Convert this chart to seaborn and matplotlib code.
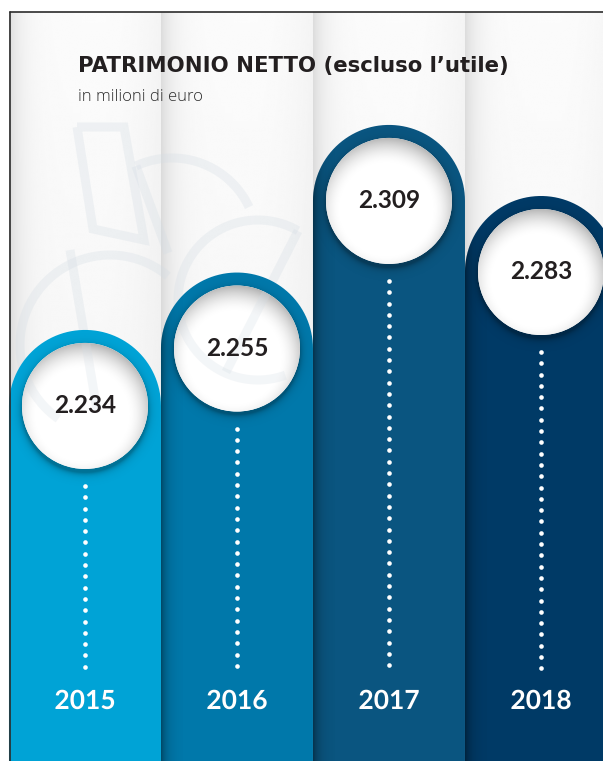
import numpy as np
import pandas as pd
import matplotlib
matplotlib.use("Agg")
import matplotlib.pyplot as plt
import seaborn as sns
from matplotlib.patches import Ellipse, PathPatch
from matplotlib.path import Path
from matplotlib.lines import Line2D
from matplotlib.transforms import Affine2D
import matplotlib.patheffects as pe

# data
years = ["2015", "2016", "2017", "2018"]
values = [2234, 2255, 2309, 2283]
value_labels = ["2.234", "2.255", "2.309", "2.283"]
bar_colors = ["#00a3d6", "#0078aa", "#0a5580", "#003a66"]
title = "PATRIMONIO NETTO (escluso l\u2019utile)"
subtitle = "in milioni di euro"

df = pd.DataFrame({"anno": years, "valore": values})

sns.set_theme(style="white")
plt.rcParams["font.family"] = ["Lato", "DejaVu Sans"]

W, H, DPI = 603, 761, 100
fig = plt.figure(figsize=(W / DPI, H / DPI), dpi=DPI)
fig.patch.set_facecolor("white")
ax = fig.add_axes([0, 0, 1, 1])

sns.barplot(data=df, x="anno", y="valore", hue="anno", palette=bar_colors,
            width=1, saturation=1, linewidth=0, legend=False, ax=ax, zorder=2)

xlim = (-0.559, 3.408)
ylim = (2076.3, 2354.7)
ax.set_xlim(xlim)
ax.set_ylim(ylim)
ax.set_axis_off()

sx = W / (xlim[1] - xlim[0])  # px per x unit
sy = H / (ylim[1] - ylim[0])  # px per y unit
k = sx / sy

# background: folded paper columns
t = np.linspace(0, 1, 300)
prof = 0.985 - 0.12 * np.exp(-t / 0.08) - 0.03 * np.clip((t - 0.6) / 0.4, 0, 1) ** 2
vert = np.linspace(0.97, 1.0, 100)[:, None]
bg = np.clip(prof[None, :] * vert, 0, 1)
y_frame = ylim[1] - 12 / sy
for i in range(len(years)):
    ax.imshow(bg, cmap="gray", vmin=0, vmax=1, aspect="auto", origin="lower",
              extent=(i - 0.5, i + 0.5, ylim[0], y_frame), zorder=0,
              interpolation="bilinear")

# faint logo watermark (pixel coordinates, y pointing down)
pix = Affine2D().scale(1, -1).translate(0, H)


def arc(cx, cy, r, a0, a1):
    th = np.radians(np.linspace(a0, a1, 90))
    return list(cx + r * np.cos(th)), list(cy - r * np.sin(th))


wm_strokes = [
    ([77, 124, 144, 93, 77], [127, 127, 240, 229, 127]),
    arc(172, 243, 85, 25, 115),
    ([136, 168], [166, 253]),
    arc(110, 345, 90, 50, 235),
    ([70, 97], [250, 410]),
    arc(258, 300, 80, 60, 290),
    ([298, 226], [231, 372]),
]


def draw_watermark(zorder, clip=None, alpha=0.3):
    for xs, ys in wm_strokes:
        ln, = ax.plot(xs, ys, transform=pix, color="#d3dce4", alpha=alpha, lw=6.5,
                      solid_capstyle="butt", solid_joinstyle="miter", zorder=zorder)
        if clip is not None:
            ln.set_clip_path(clip)


draw_watermark(1)

# circle inner-shadow image (darker towards the top edge)
n = 240
u, v = np.meshgrid(np.linspace(-1, 1, n), np.linspace(-1, 1, n))
d_in = np.hypot(u + 0.05, v + 0.14)
shade = 1 - 0.3 * np.clip((d_in - 0.72) / 0.42, 0, 1) ** 1.8

# soft shadow of the hole on the ring, mostly below it
m = 240
uu, vv = np.meshgrid(np.linspace(-1.3, 1.3, m), np.linspace(-1.3, 1.3, m))
d_out = np.hypot(uu, vv + 0.06)
ring_sh = np.zeros((m, m, 4))
ring_sh[..., 3] = np.where(d_out < 1.0, 0.3, 0.3 * np.exp(-(d_out - 1.0) / 0.05))

bars = sorted(ax.patches, key=lambda p: p.get_x())
for i, p in enumerate(bars):
    x0, w = p.get_x(), p.get_width()
    base = ylim[0] - 5
    top = p.get_y() + p.get_height()
    cx = x0 + w / 2
    r = w / 2
    ry = r * k
    cy = top - ry

    # rounded-top bar built from the seaborn rectangle
    ang = np.linspace(np.pi, 0, 60)
    verts = ([(x0, base)] + list(zip(cx + r * np.cos(ang), cy + ry * np.sin(ang)))
             + [(x0 + w, base), (x0, base)])
    codes = [Path.MOVETO] + [Path.LINETO] * (len(verts) - 2) + [Path.CLOSEPOLY]
    shape = PathPatch(Path(verts, codes), facecolor=p.get_facecolor(), lw=0, zorder=2)
    ax.add_patch(shape)
    p.set_visible(False)

    # shadow cast by the previous column
    if i > 0:
        sh = np.zeros((1, 60, 4))
        sh[0, :, 3] = 0.4 * np.exp(-np.linspace(0, 1, 60) / 0.28)
        im = ax.imshow(sh, aspect="auto", zorder=2.5, interpolation="bilinear",
                       extent=(x0, x0 + 22 / sx, base, top))
        im.set_clip_path(shape)

    rc = r * 63 / 76
    im = ax.imshow(ring_sh, aspect="auto", origin="lower", zorder=2.6,
                   interpolation="bilinear",
                   extent=(cx - 1.3 * rc, cx + 1.3 * rc, cy - 1.3 * rc * k, cy + 1.3 * rc * k))
    im.set_clip_path(shape)

    # white hole with inner shadow
    circ = Ellipse((cx, cy), 2 * rc, 2 * rc * k, facecolor="white", lw=0, zorder=3)
    ax.add_patch(circ)
    im = ax.imshow(shade, cmap="gray", vmin=0, vmax=1, origin="lower", aspect="auto",
                   extent=(cx - rc, cx + rc, cy - rc * k, cy + rc * k), zorder=3.5,
                   interpolation="bilinear")
    im.set_clip_path(circ)
    draw_watermark(3.6, clip=circ, alpha=0.25)

    ax.text(cx, cy, value_labels[i], ha="center", va="center", fontsize=17.6,
            color="#231f20", fontweight="bold", zorder=5)

    # dotted leader
    y_start = cy - rc * k - 17 / sy
    y_end = ylim[1] - 676 / sy
    ys = np.arange(y_start, y_end, -11.3 / sy)
    ax.scatter(np.full(len(ys), cx), ys, s=11, color="white", lw=0, zorder=4)

    ax.text(cx, ylim[1] - 701 / sy, years[i], ha="center", va="center",
            fontsize=19, color="white", fontweight="bold", zorder=5,
            path_effects=[pe.withSimplePatchShadow(offset=(0, 0), shadow_rgbFace="black",
                                                   alpha=0.2)])

ax.set_xlim(xlim)
ax.set_ylim(ylim)

# frame
fig.add_artist(Line2D([10 / W, 10 / W], [0, 1 - 12 / H], color="#2b2b2b", lw=1.2))
fig.add_artist(Line2D([10 / W, 1], [1 - 12 / H, 1 - 12 / H], color="#2b2b2b", lw=1.2))

fig.text(78 / W, 1 - 66 / H, title, fontsize=15.3, fontweight="bold", color="#231f20",
         va="center", ha="left", family=["DejaVu Sans"])
fig.text(78 / W, 1 - 97 / H, subtitle, fontsize=12, color="#2e2e2e", fontweight="light",
         va="center", ha="left", family=["Open Sans", "DejaVu Sans"])

fig.savefig("out.png", dpi=DPI)
